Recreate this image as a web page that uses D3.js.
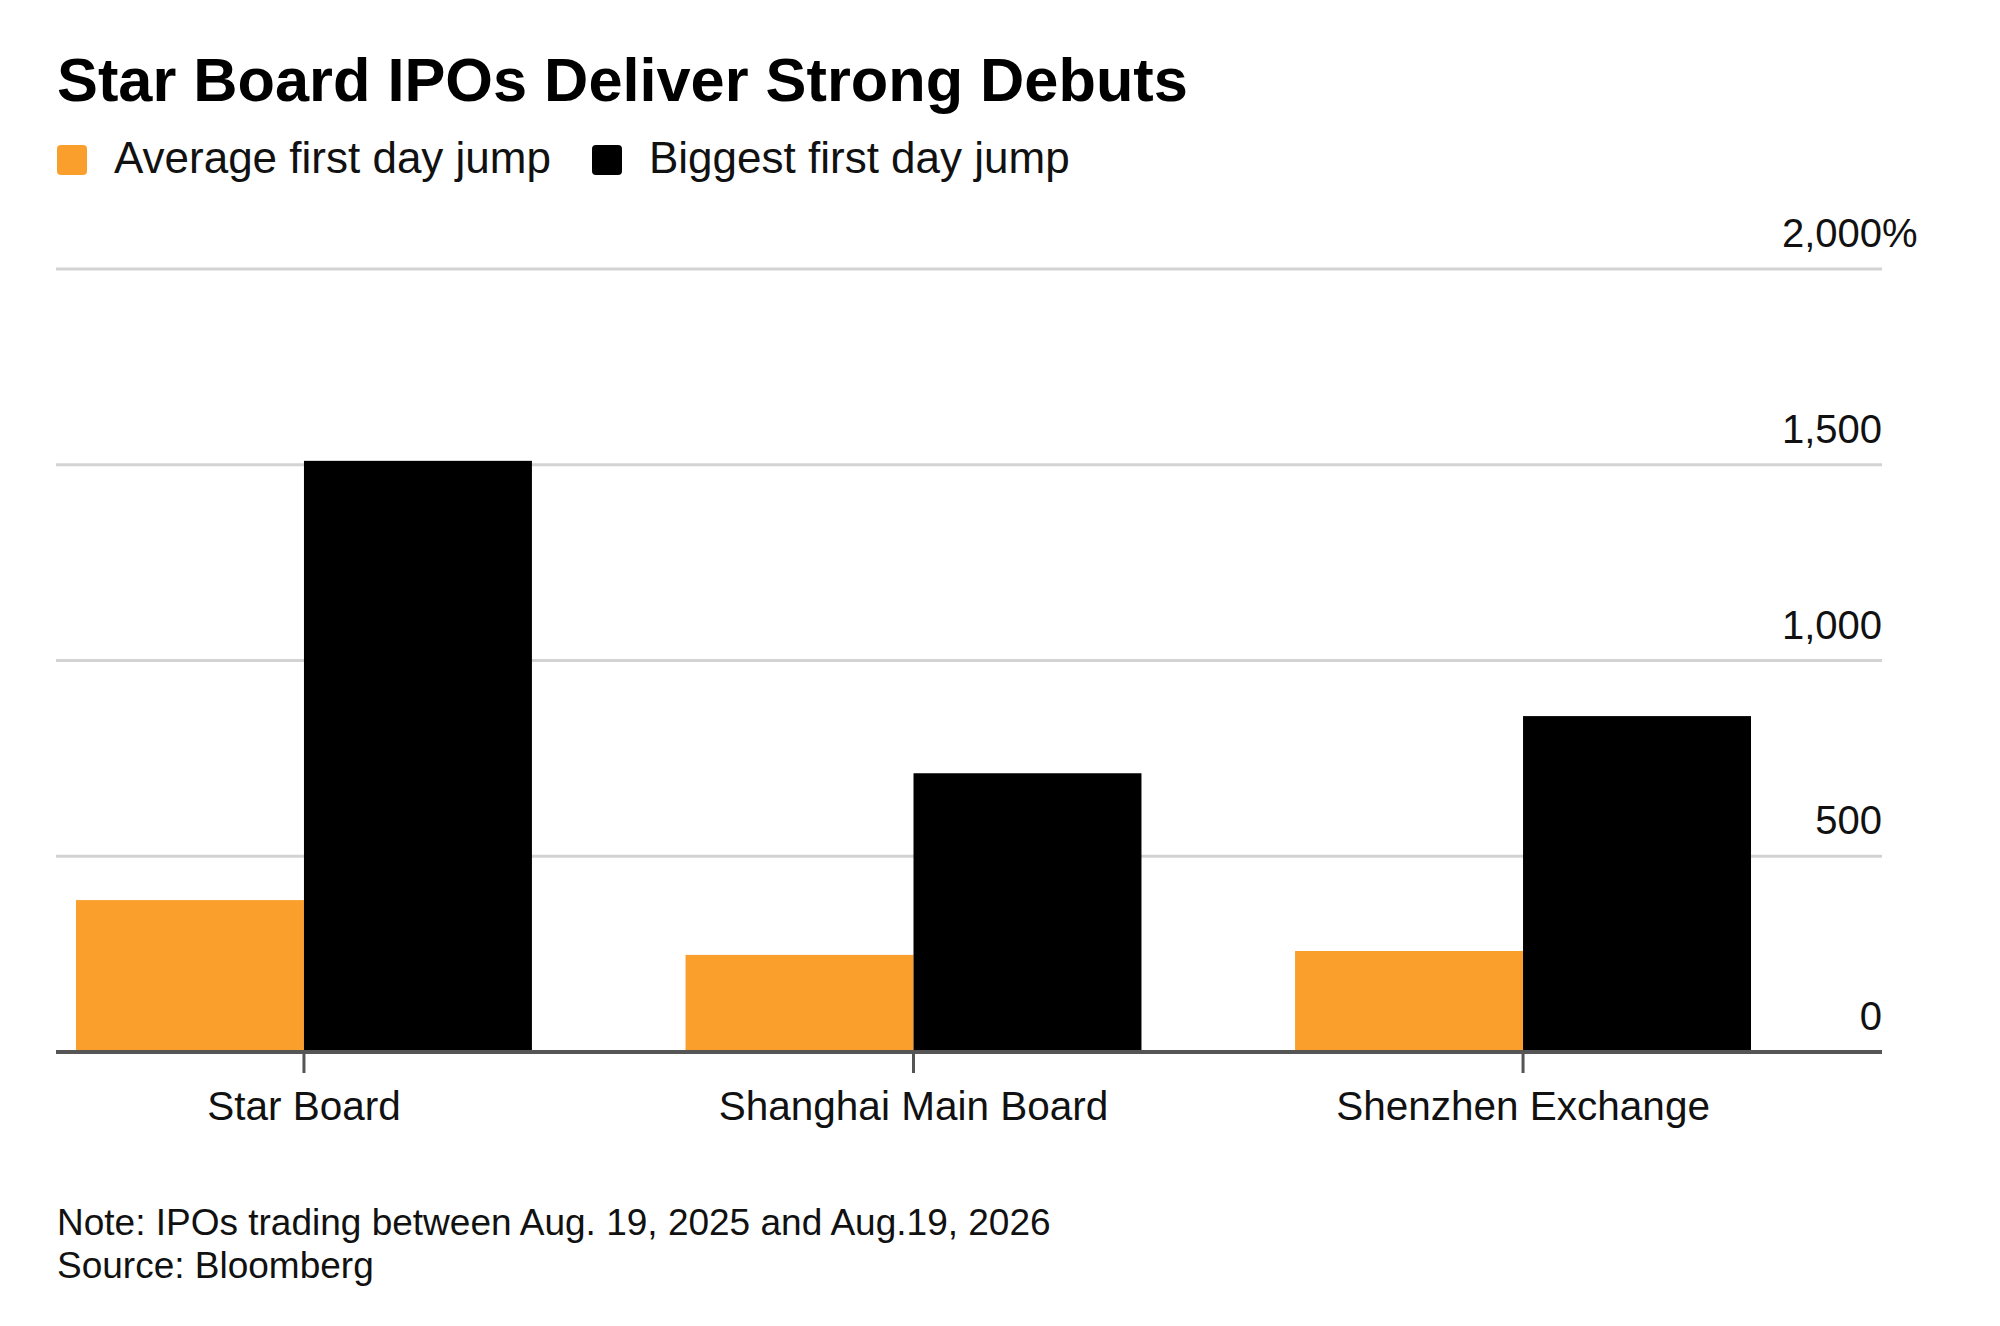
<!DOCTYPE html>
<html>
<head>
<meta charset="utf-8">
<script src="https://cdn.jsdelivr.net/npm/d3@7"></script>
<style>
  html, body { margin: 0; padding: 0; background: #ffffff; }
  svg { display: block; font-family: "Liberation Sans", Arial, Helvetica, sans-serif; }
</style>
</head>
<body>
<svg id="chart" width="2000" height="1326"></svg>
<script>
// ---- data ----
const categories = ["Star Board", "Shanghai Main Board", "Shenzhen Exchange"];
const seriesNames = ["Average first day jump", "Biggest first day jump"];
const averageJump = [388, 248, 258];
const biggestJump = [1510, 712, 858];
const yTicks = [0, 500, 1000, 1500, 2000];
const titleText = "Star Board IPOs Deliver Strong Debuts";
const noteText = "Note: IPOs trading between Aug. 19, 2025 and Aug.19, 2026";
const sourceText = "Source: Bloomberg";

const colors = { "Average first day jump": "#fa9f2b", "Biggest first day jump": "#000000" };

const svg = d3.select("#chart");

const left = 56, right = 1882, bandRight = 1771;
const yTop = 269, yBottom = 1052;

const y = d3.scaleLinear().domain([0, 2000]).range([yBottom, yTop]);
const x = d3.scaleBand().domain(categories).range([left, bandRight])
  .paddingInner(0.252).paddingOuter(0.0328);
const xs = d3.scaleBand().domain(seriesNames).range([0, x.bandwidth()]).padding(0);

const rows = categories.map((c, i) => ({ cat: c, values: [
  { s: seriesNames[0], v: averageJump[i] },
  { s: seriesNames[1], v: biggestJump[i] }
]}));

// title
svg.append("text").attr("x", 57).attr("y", 101)
  .attr("font-size", 61.3).attr("font-weight", "bold").attr("fill", "#000")
  .text(titleText);

// legend
const legX = [57, 592];
seriesNames.forEach((s, i) => {
  svg.append("rect").attr("x", legX[i]).attr("y", 145).attr("width", 30).attr("height", 30)
    .attr("rx", 4).attr("fill", colors[s]);
  svg.append("text").attr("x", legX[i] + 57).attr("y", 173)
    .attr("font-size", 44).attr("fill", "#111").text(s);
});

// gridlines
const grid = svg.append("g");
grid.selectAll("line").data(yTicks.filter(t => t !== 0)).join("line")
  .attr("x1", left).attr("x2", right)
  .attr("y1", d => y(d)).attr("y2", d => y(d))
  .attr("stroke", "#d3d3d3").attr("stroke-width", 3);

// y labels
const yl = svg.append("g");
yl.selectAll("text").data(yTicks).join("text")
  .attr("x", right).attr("y", d => y(d) - 22)
  .attr("text-anchor", "end").attr("font-size", 40).attr("fill", "#111")
  .text(d => d3.format(",")(d));
yl.append("text").attr("x", right).attr("y", y(yTicks[yTicks.length - 1]) - 22)
  .attr("font-size", 40).attr("fill", "#111").text("%");

// bars
const groups = svg.append("g").selectAll("g").data(rows).join("g")
  .attr("transform", d => `translate(${x(d.cat)},0)`);
groups.selectAll("rect").data(d => d.values).join("rect")
  .attr("x", d => xs(d.s)).attr("width", xs.bandwidth())
  .attr("y", d => y(d.v)).attr("height", d => y(0) - y(d.v))
  .attr("fill", d => colors[d.s]);

// zero axis line
svg.append("line").attr("x1", left).attr("x2", right)
  .attr("y1", y(0)).attr("y2", y(0))
  .attr("stroke", "#555").attr("stroke-width", 4);

// ticks and category labels
const xa = svg.append("g");
xa.selectAll("line").data(categories).join("line")
  .attr("x1", d => x(d) + x.bandwidth() / 2).attr("x2", d => x(d) + x.bandwidth() / 2)
  .attr("y1", y(0)).attr("y2", y(0) + 21)
  .attr("stroke", "#555").attr("stroke-width", 3);
xa.selectAll("text").data(categories).join("text")
  .attr("x", d => x(d) + x.bandwidth() / 2).attr("y", 1120)
  .attr("text-anchor", "middle").attr("font-size", 40.5).attr("fill", "#111")
  .text(d => d);

// footer
svg.append("text").attr("x", 57).attr("y", 1235).attr("font-size", 37).attr("fill", "#111").text(noteText);
svg.append("text").attr("x", 57).attr("y", 1278).attr("font-size", 37).attr("fill", "#111").text(sourceText);
</script>
</body>
</html>
